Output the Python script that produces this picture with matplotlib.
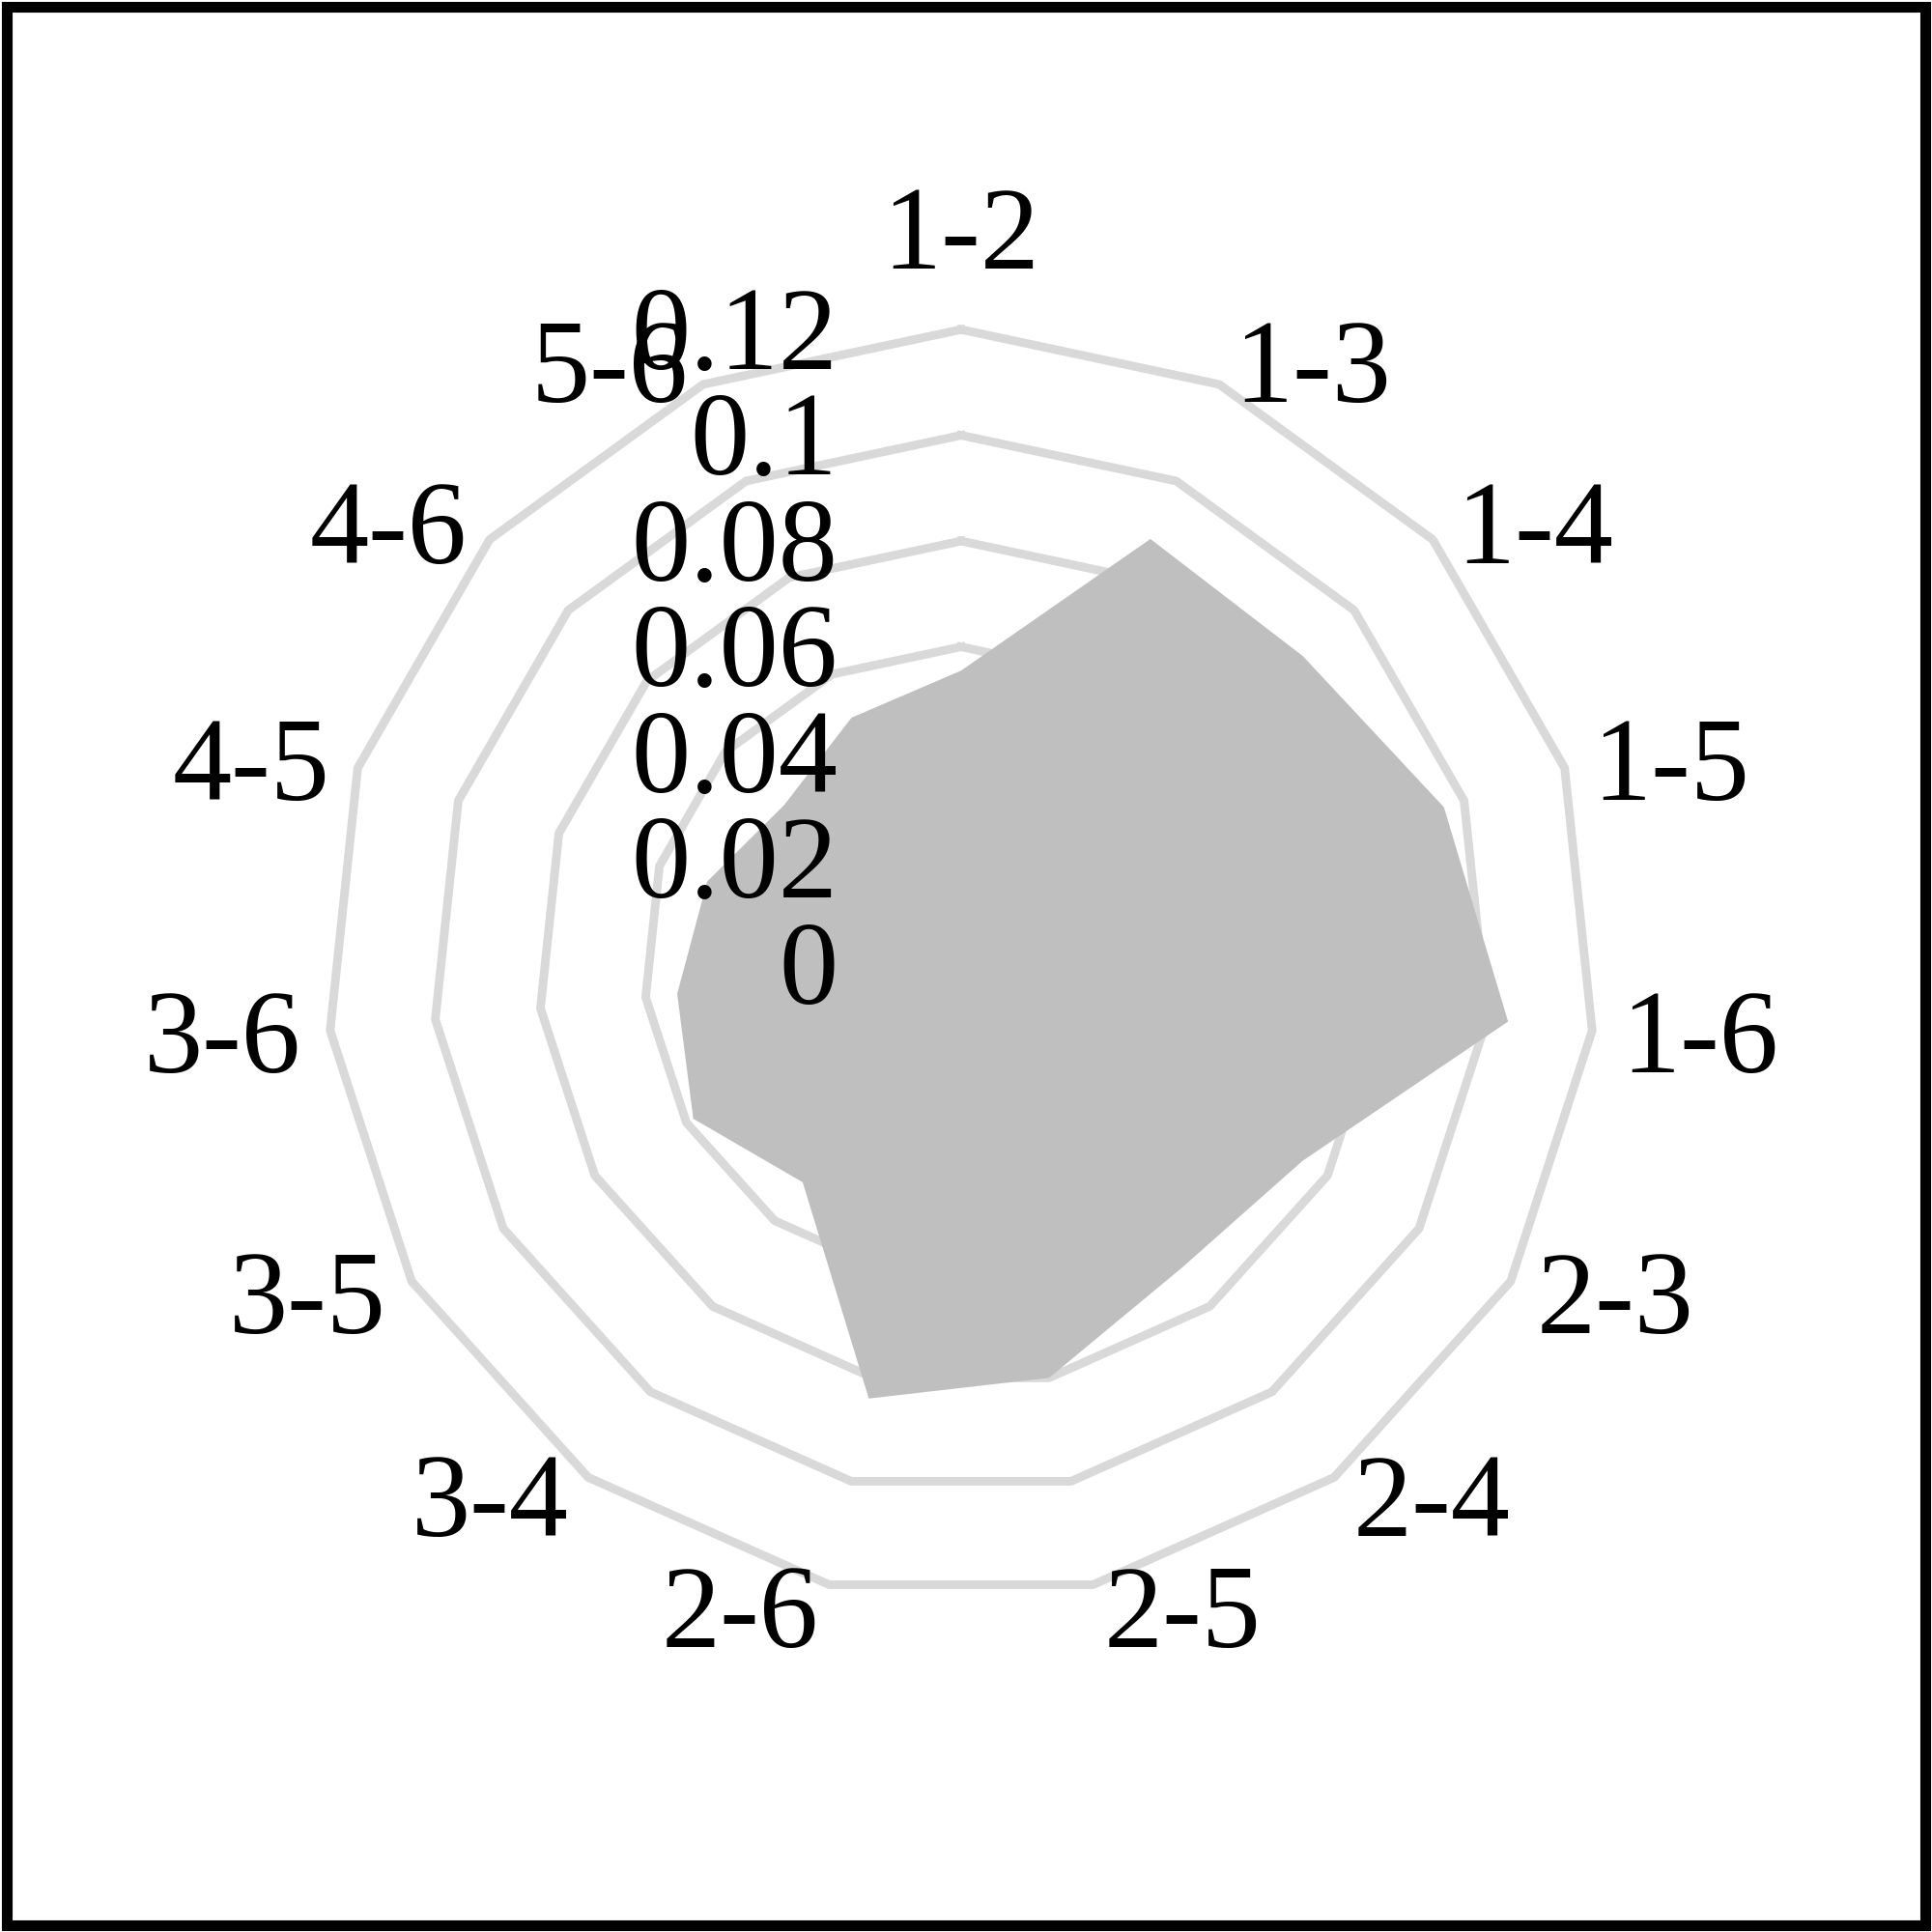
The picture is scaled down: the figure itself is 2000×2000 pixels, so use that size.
import numpy as np
import matplotlib
matplotlib.use("Agg")
import matplotlib.pyplot as plt
from matplotlib.patches import Rectangle

plt.rcParams['font.family'] = ['Liberation Serif', 'DejaVu Serif']

# pair labels, clockwise from the top
pairs = ['1-2', '1-3', '1-4', '1-5', '1-6', '2-3', '2-4', '2-5',
         '2-6', '3-4', '3-5', '3-6', '4-5', '4-6', '5-6']
values = [0.0555, 0.088, 0.087, 0.096, 0.104, 0.0745, 0.071, 0.080,
          0.084, 0.051, 0.0585, 0.054, 0.0505, 0.045, 0.051]
ring_ticks = [0, 0.02, 0.04, 0.06, 0.08, 0.1, 0.12]
ring_labels = ['0', '0.02', '0.04', '0.06', '0.08', '0.1', '0.12']

n = len(pairs)
theta = np.pi / 2 - np.arange(n) * 2 * np.pi / n
ct, st = np.cos(theta), np.sin(theta)

fig = plt.figure(figsize=(10, 10), dpi=200)
ax = fig.add_axes([0.0596, 0.0631, 0.8758, 0.8758])
ax.set_xlim(-0.16, 0.16)
ax.set_ylim(-0.16, 0.16)
ax.set_aspect('equal')
ax.axis('off')

# polygon grid
for r in ring_ticks[1:]:
    xs = np.append(r * ct, r * ct[0])
    ys = np.append(r * st, r * st[0])
    ax.plot(xs, ys, color='#d9d9d9', lw=3.2, zorder=1)

# data area
v = np.array(values)
ax.fill(v * ct, v * st, color='#bfbfbf', lw=0, zorder=2)

# category labels
for i, lab in enumerate(pairs):
    if abs(ct[i]) < 0.01:
        r = 0.139
        ha = 'center'
        dx = 0
    else:
        r = 0.1245
        ha = 'left' if ct[i] > 0 else 'right'
        dx = 2 if ct[i] > 0 else -2
    ax.annotate(lab, (r * ct[i], r * st[i]), xytext=(dx, -4),
                textcoords='offset points', ha=ha, va='center',
                fontsize=44, zorder=5, annotation_clip=False)

# radial axis labels
for r, lab in zip(ring_ticks, ring_labels):
    ax.annotate(lab, (0, r), xytext=(-46, -4), textcoords='offset points',
                ha='right', va='center', fontsize=44, zorder=5,
                annotation_clip=False)

# outer frame
fig.patches.append(Rectangle((0.0035, 0.0035), 0.993, 0.993,
                             transform=fig.transFigure, fill=False,
                             edgecolor='black', lw=4.0))

fig.savefig('out.png', dpi=200, facecolor='white')
